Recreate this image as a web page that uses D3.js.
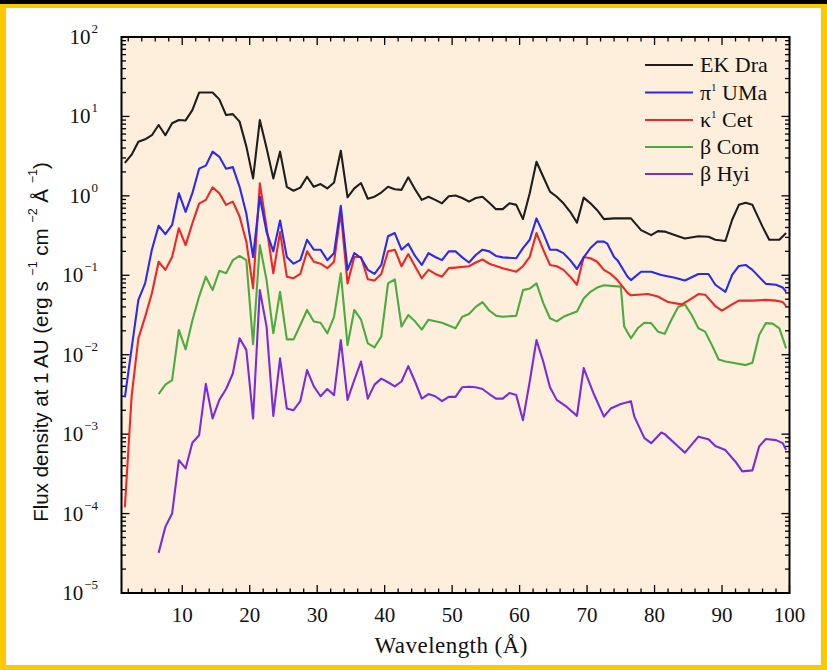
<!DOCTYPE html>
<html>
<head>
<meta charset="utf-8">
<script src="https://cdn.jsdelivr.net/npm/d3@7"></script>
<style>
  html, body { margin: 0; padding: 0; background: #000; }
  svg { display: block; }
</style>
</head>
<body>
<svg id="chart" width="827" height="670"></svg>
<script>
// X-ray/EUV flux densities at 1 AU for five solar analogues of different ages

const seriesNames = ["EK Dra", "π¹ UMa", "κ¹ Cet", "β Com", "β Hyi"];
const seriesColors = ["#1e1e1e", "#2a2af0", "#ee2626", "#4bab3f", "#7a2cdc"];

const ekDraWave = [1.5,2.5,3.5,4.5,5.5,6.5,7.5,8.5,9.5,10.5,11.5,12.5,13.5,14.5,15.5,16.5,17.5,18.5,19.5,20.5,
  21.5,22.5,23.5,24.5,25.5,26.5,27.5,28.5,29.5,30.5,31.5,32.5,33.5,34.5,35.5,36.5,37.5,38.5,39.5,40.5,
  41.5,42.5,43.5,44.5,45.5,46.5,47.5,48.5,49.5,50.5,51.5,52.5,53.5,54.5,55.5,56.5,57.5,58.5,59.5,60.5,
  61.5,62.5,63.5,64.5,65.5,66.5,67.5,68.5,69.5,70.5,71.5,72.5,74,76.5,78,79.5,80.5,81.5,83.5,84.5,
  86.5,88,89,90.5,91.5,92.5,93.5,94.5,96,97,98.5,99.5];
const ekDraFlux = [2.6,3.3,4.8,5.15,5.8,7.8,5.8,8.2,9.0,8.9,12,20,20,20,16.4,10.4,10.7,8.6,4.2,1.66,
  9.0,4.0,1.66,3.6,1.3,1.16,1.27,1.74,1.3,1.41,1.24,1.47,3.7,0.96,1.24,1.45,0.92,0.975,1.10,1.30,
  1.21,1.19,1.71,1.21,0.89,0.975,0.89,0.805,0.99,1.01,0.94,0.845,0.94,0.975,0.82,0.68,0.68,0.805,0.77,0.51,
  1.08,2.69,1.74,1.13,0.975,0.805,0.63,0.46,0.95,0.805,0.66,0.51,0.52,0.52,0.37,0.32,0.36,0.355,0.31,0.29,
  0.31,0.305,0.28,0.27,0.50,0.77,0.82,0.77,0.41,0.28,0.28,0.34];

const piUMaWave = [1.5,2.5,3.5,4.5,5.5,6.5,7.5,8.5,9.5,10.5,11.5,12.5,13.5,14.5,15.5,16.5,17.5,18.5,19.5,20.5,
  21.5,22.5,23.5,24.5,25.5,26.5,27.5,28.5,29.5,30.5,31.5,32.5,33.5,34.5,35.5,36.5,37.5,38.5,39.5,40.5,
  41.5,42.5,43.5,44.5,45.5,46.5,47.5,48.5,49.5,50.5,51.5,52.5,53.5,54.5,55.5,56.5,57.5,59.5,60.5,61.5,
  62.5,63.5,64.5,65.5,66.5,67.5,68.5,69.5,70.5,71.5,72.5,73,74,74.5,76,76.5,78,79.5,81,83,
  84.5,86.5,88,89,90.5,91.5,92.5,93.5,94.5,96.5,98,99,99.5];
const piUMaFlux = [0.0029,0.012,0.049,0.079,0.21,0.42,0.33,0.43,1.08,0.63,1.08,2.2,2.4,3.6,3.1,2.2,2.3,1.3,0.60,0.17,
  0.975,0.35,0.20,0.49,0.17,0.14,0.155,0.28,0.21,0.21,0.155,0.19,0.75,0.117,0.19,0.165,0.117,0.104,0.135,0.31,
  0.34,0.21,0.25,0.175,0.135,0.19,0.17,0.155,0.2,0.2,0.168,0.145,0.18,0.21,0.2,0.175,0.168,0.164,0.22,0.28,
  0.52,0.34,0.21,0.21,0.19,0.155,0.12,0.168,0.22,0.265,0.265,0.25,0.17,0.155,0.096,0.087,0.111,0.111,0.101,0.093,
  0.086,0.104,0.104,0.076,0.062,0.101,0.131,0.135,0.117,0.078,0.076,0.07,0.062];

const kapCetWave = [1.5,2.5,3.5,4.5,5.5,6.5,7.5,8.5,9.5,10.5,11.5,12.5,13.5,14.5,15.5,16.5,17.5,18.5,19.5,20.5,
  21.5,22.5,23.5,24.5,25.5,26.5,27.5,28.5,29.5,30.5,31.5,32.5,33.5,34.5,35.5,36.5,37.5,38.5,39.5,40.5,
  41.5,42.5,43.5,44.5,45.5,46.5,47.5,48.5,49.5,50.5,52.5,53.5,54.5,55.5,57.5,59.5,60.5,61.5,62.5,63.5,
  64.5,65.5,66.5,67.5,68.5,69.5,70.5,71.5,72.5,73.5,74.5,76,76.5,79,80.5,82,84,85,86.5,87.5,
  89,90,91.5,92.5,94.5,96.5,98,99,99.5];
const kapCetFlux = [0.00012,0.003,0.016,0.030,0.059,0.148,0.117,0.17,0.39,0.24,0.45,0.8,0.89,1.28,1.08,0.77,0.845,0.55,0.265,0.069,
  1.44,0.40,0.106,0.35,0.096,0.092,0.104,0.2,0.148,0.14,0.123,0.148,0.62,0.079,0.17,0.17,0.089,0.086,0.104,0.2,
  0.21,0.13,0.185,0.13,0.092,0.117,0.104,0.096,0.123,0.125,0.13,0.145,0.158,0.14,0.123,0.111,0.13,0.17,0.34,0.21,
  0.135,0.13,0.117,0.096,0.076,0.17,0.164,0.148,0.117,0.104,0.087,0.06,0.056,0.058,0.054,0.046,0.043,0.048,0.058,0.057,
  0.041,0.036,0.043,0.048,0.048,0.049,0.048,0.046,0.041];

const betComWave = [6.5,7.5,8.5,9.5,10.5,11.5,12.5,13.5,14.5,15.5,16.5,17.5,18.5,19.5,20.5,
  21.5,22.5,23.5,24.5,25.5,26.5,27.5,28.5,29.5,30.5,31.5,32.5,33.5,34.5,35.5,36.5,37.5,38.5,39.5,40.5,
  41.5,42.5,43.5,44.5,45.5,46.5,48.5,50.5,51.5,52.5,53.5,54.5,55.5,56.5,57.5,59.5,60.5,61.5,62.5,63.5,
  64.5,65.5,66.5,67.5,68.5,69.5,70.5,71.5,72.5,74,75,75.5,76.5,77.5,78.5,79.5,80.5,81.5,82.5,83.5,
  84.5,85.5,86.5,87.5,88.5,89.5,90.5,92,93.5,94.5,95.5,96.5,97.5,98.5,99.5];
const betComFlux = [0.0032,0.0042,0.0048,0.0205,0.0117,0.027,0.054,0.096,0.065,0.114,0.106,0.155,0.175,0.155,0.0136,
  0.24,0.087,0.0186,0.062,0.0156,0.0156,0.0237,0.0366,0.0262,0.0253,0.0186,0.030,0.106,0.0132,0.0366,0.0276,0.0139,0.0124,0.0169,0.079,
  0.089,0.0226,0.0316,0.0263,0.0207,0.0276,0.0253,0.0215,0.030,0.0325,0.040,0.046,0.036,0.031,0.030,0.031,0.065,0.068,0.079,0.045,
  0.0288,0.0263,0.030,0.0325,0.035,0.051,0.062,0.070,0.075,0.073,0.072,0.0226,0.0161,0.0215,0.0253,0.025,0.0195,0.0183,0.0276,0.040,
  0.043,0.0316,0.0215,0.0195,0.0132,0.0087,0.0082,0.0078,0.0074,0.0079,0.0177,0.025,0.0246,0.0215,0.012];

const betHyiWave = [6.5,7.5,8.5,9.5,10.5,11.5,12.5,13.5,14.5,15.5,16.5,17.5,18.5,19.5,20.5,
  21.5,22.5,23.5,24.5,25.5,26.5,27.5,28.5,29.5,30.5,31.5,32.5,33.5,34.5,35.5,36.5,37.5,38.5,39.5,40.5,
  41.5,42.5,43.5,44.5,45.5,46.5,47.5,48.5,49.5,50.5,51.5,52.5,53.5,54.5,55.5,56.5,57.5,58.5,59.5,60.5,
  61.5,62.5,63.5,64.5,65.5,67,68.5,69.5,71,72.5,73.5,75,76.5,77,78.5,79.5,81,81.5,83.5,84.5,
  86.5,88,89,90.5,92,93,94.5,95.5,96.5,98,99,99.5];
const betHyiFlux = [3.2e-5,6.8e-5,1.0e-4,4.7e-4,3.7e-4,7.8e-4,9.7e-4,4.3e-3,1.58e-3,2.7e-3,3.7e-3,5.8e-3,0.0161,0.0115,1.58e-3,
  0.065,0.0226,1.7e-3,9.0e-3,2.1e-3,2.0e-3,2.6e-3,6.4e-3,4.0e-3,3.0e-3,3.7e-3,3.1e-3,0.0153,2.7e-3,4.8e-3,8.2e-3,2.8e-3,4.2e-3,5.0e-3,4.5e-3,
  4.0e-3,4.6e-3,7.2e-3,4.6e-3,2.8e-3,3.2e-3,3.0e-3,2.6e-3,2.95e-3,2.95e-3,3.9e-3,3.95e-3,3.9e-3,3.7e-3,3.2e-3,2.8e-3,2.8e-3,3.3e-3,3.1e-3,1.5e-3,
  4.6e-3,0.0153,8.2e-3,3.9e-3,2.7e-3,2.2e-3,1.7e-3,6.8e-3,3.2e-3,1.66e-3,2.1e-3,2.4e-3,2.6e-3,1.66e-3,8.9e-4,7.7e-4,1.05e-3,1.0e-3,7.0e-4,5.85e-4,
  9.3e-4,8.6e-4,7.1e-4,6.3e-4,4.5e-4,3.4e-4,3.5e-4,7.0e-4,8.7e-4,8.4e-4,7.7e-4,6.3e-4];

const xMajorTicks = [10, 20, 30, 40, 50, 60, 70, 80, 90, 100];
const yDecades = [-5, -4, -3, -2, -1, 0, 1, 2];

// ---------------------------------------------------------------
const svg = d3.select("#chart");
const W = 827, H = 670;

// page frame
svg.append("rect").attr("x", 0).attr("y", 0).attr("width", W).attr("height", H).attr("fill", "#000");
svg.append("rect").attr("x", 0).attr("y", 4).attr("width", W).attr("height", H - 4).attr("fill", "#fcc800");
svg.append("rect").attr("x", 6).attr("y", 8).attr("width", 815).attr("height", 657).attr("fill", "#ffffff");

const plot = { left: 121.5, right: 789.5, top: 37, bottom: 593 };

const x = d3.scaleLinear().domain([1, 100]).range([plot.left, plot.right]);
const y = d3.scaleLog().domain([1e-5, 1e2]).range([plot.bottom, plot.top]);

svg.append("rect")
  .attr("x", plot.left).attr("y", plot.top)
  .attr("width", plot.right - plot.left).attr("height", plot.bottom - plot.top)
  .attr("fill", "#fdefdb");

const serifFont = "'Liberation Serif', 'Times New Roman', Times, 'DejaVu Serif', serif";
const sansFont = "'Liberation Sans', Arial, Helvetica, sans-serif";

// ticks (inward, on all four sides)
const tickG = svg.append("g").attr("stroke", "#000").attr("stroke-width", 1.3);
const xMinor = d3.range(2, 100, 2).filter(v => v % 10 !== 0);
function xTick(v, len) {
  tickG.append("line").attr("x1", x(v)).attr("x2", x(v)).attr("y1", plot.bottom).attr("y2", plot.bottom - len);
  tickG.append("line").attr("x1", x(v)).attr("x2", x(v)).attr("y1", plot.top).attr("y2", plot.top + len);
}
xMajorTicks.forEach(v => xTick(v, 8));
xMinor.forEach(v => xTick(v, 4.5));

function yTick(v, len) {
  tickG.append("line").attr("x1", plot.left).attr("x2", plot.left + len).attr("y1", y(v)).attr("y2", y(v));
  tickG.append("line").attr("x1", plot.right).attr("x2", plot.right - len).attr("y1", y(v)).attr("y2", y(v));
}
yDecades.forEach(e => {
  yTick(Math.pow(10, e), 8);
  if (e < 2) d3.range(2, 10).forEach(m => yTick(m * Math.pow(10, e), 4.5));
});

// x tick labels
svg.append("g").selectAll("text").data(xMajorTicks).join("text")
  .attr("x", d => x(d)).attr("y", 621.5)
  .attr("text-anchor", "middle")
  .style("font-family", serifFont).attr("font-size", 21)
  .attr("fill", "#111")
  .text(d => d);

// y tick labels: 10 with superscript exponent
const yLab = svg.append("g").selectAll("text").data(yDecades).join("text")
  .attr("x", 98).attr("y", d => y(Math.pow(10, d)) + 7)
  .attr("text-anchor", "end")
  .style("font-family", serifFont).attr("font-size", 21)
  .attr("fill", "#111");
yLab.append("tspan").text("10");
yLab.append("tspan").attr("dy", -11).attr("dx", 1).attr("font-size", 13)
  .text(d => d < 0 ? "\u2212" + Math.abs(d) : String(d));

// series lines
const seriesWave = [ekDraWave, piUMaWave, kapCetWave, betComWave, betHyiWave];
const seriesFlux = [ekDraFlux, piUMaFlux, kapCetFlux, betComFlux, betHyiFlux];
const line = d3.line().x(d => x(d[0])).y(d => y(d[1]));

svg.append("clipPath").attr("id", "plotClip").append("rect")
  .attr("x", plot.left).attr("y", plot.top)
  .attr("width", plot.right - plot.left).attr("height", plot.bottom - plot.top);

const linesG = svg.append("g").attr("clip-path", "url(#plotClip)");
// draw from faintest to brightest so the upper curves sit on top
[4, 3, 2, 1, 0].forEach(i => {
  const pts = seriesWave[i].map((w, k) => [w, seriesFlux[i][k]]);
  linesG.append("path")
    .attr("d", line(pts))
    .attr("fill", "none")
    .attr("stroke", seriesColors[i])
    .attr("stroke-width", 2.1)
    .attr("stroke-linejoin", "round");
});

// frame
svg.append("rect")
  .attr("x", plot.left).attr("y", plot.top)
  .attr("width", plot.right - plot.left).attr("height", plot.bottom - plot.top)
  .attr("fill", "none").attr("stroke", "#000").attr("stroke-width", 2);

// legend
const legendRows = [65, 92.5, 120, 147, 174];
const lg = svg.append("g");
seriesNames.forEach((name, i) => {
  lg.append("line")
    .attr("x1", 645).attr("x2", 693)
    .attr("y1", legendRows[i]).attr("y2", legendRows[i])
    .attr("stroke", seriesColors[i]).attr("stroke-width", 2.1);
  const t = lg.append("text")
    .attr("x", 700).attr("y", legendRows[i] + 7)
    .style("font-family", serifFont).attr("font-size", 22).attr("fill", "#111");
  const m = name.match(/^(.)¹ (.*)$/);
  if (m) {
    t.append("tspan").text(m[1]);
    t.append("tspan").attr("dy", -9).attr("font-size", 11).text("1");
    t.append("tspan").attr("dy", 9).text(" " + m[2]);
  } else {
    t.text(name);
  }
});

// axis titles
svg.append("text")
  .attr("x", 451).attr("y", 653)
  .attr("text-anchor", "middle")
  .style("font-family", serifFont).attr("font-size", 23).attr("fill", "#111")
  .attr("textLength", 153).attr("lengthAdjust", "spacing")
  .text("Wavelength (Å)");

const yt = svg.append("text")
  .attr("transform", "translate(48,342) rotate(-90)")
  .attr("text-anchor", "middle")
  .style("font-family", sansFont)
  .attr("font-size", 20.5).attr("fill", "#111");
yt.append("tspan").text("Flux density at 1 AU (erg s ");
yt.append("tspan").attr("dy", -11).attr("font-size", 12.5).text("\u22121");
yt.append("tspan").attr("dy", 11).text(" cm ");
yt.append("tspan").attr("dy", -11).attr("font-size", 12.5).text("\u22122");
yt.append("tspan").attr("dy", 11).text(" Å ");
yt.append("tspan").attr("dy", -11).attr("font-size", 12.5).text("\u22121");
yt.append("tspan").attr("dy", 11).text(")");
</script>
</body>
</html>
